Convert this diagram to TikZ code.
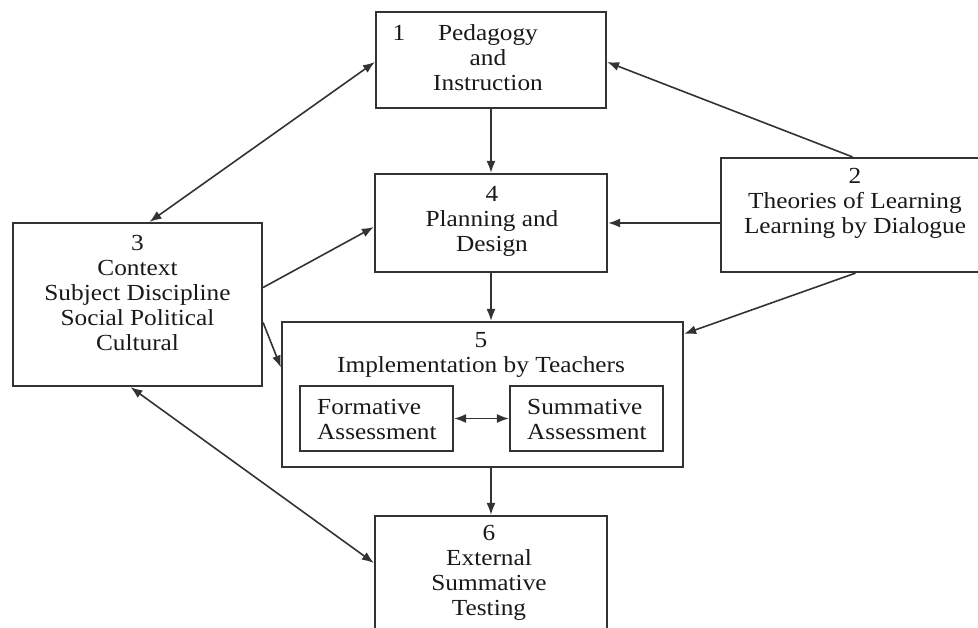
\documentclass[tikz,border=0pt]{standalone}
\usepackage{fontspec}
\setmainfont[FakeStretch=1.1]{Liberation Serif}
\usetikzlibrary{arrows.meta}
\definecolor{linegray}{HTML}{333333}
\begin{document}
\begin{tikzpicture}[x=1pt,y=-1pt,
  box/.style={draw=linegray, line width=2.2pt, rectangle, inner sep=0pt},
  lbl/.style={align=center, inner sep=0pt, font=\fontsize{23}{25}\selectfont, text=black!90},
  lbll/.style={align=left, inner sep=0pt, anchor=west, font=\fontsize{23}{25}\selectfont, text=black!90},
  arr/.style={draw=linegray, line width=1.6pt, -{Latex[length=12pt,width=9pt]}},
  darr/.style={draw=linegray, line width=1.6pt, {Latex[length=12pt,width=9pt]}-{Latex[length=12pt,width=9pt]}}
]
\useasboundingbox (0,0) rectangle (978,627);
% boxes
\node[box, minimum width=230pt, minimum height=96pt] (b1) at (491,60) {};
\node[box, minimum width=232pt, minimum height=98pt] (b4) at (491,223) {};
\node[box, minimum width=269pt, minimum height=114pt] (b2) at (855.5,215) {};
\node[box, minimum width=249pt, minimum height=163pt] (b3) at (137.5,304.5) {};
\node[box, minimum width=401pt, minimum height=145pt] (b5) at (482.5,394.5) {};
\node[box, minimum width=153pt, minimum height=65pt] (bf) at (376.5,418.5) {};
\node[box, minimum width=153pt, minimum height=65pt] (bs) at (586.5,418.5) {};
\node[box, minimum width=232pt, minimum height=134pt] (b6) at (491,583) {};
% texts
\node[lbl] (t1n) at (399,33) {1};
\node[lbl] (t1) at (488,58) {Pedagogy\\and\\Instruction};
\node[lbl] (t4) at (492,221) {4\\Planning and\\Design};
\node[lbl] (t2) at (855,203) {2\\Theories of Learning\\Learning by Dialogue};
\node[lbl] (t3) at (137.5,293) {3\\Context\\Subject Discipline\\Social Political\\Cultural};
\node[lbl] (t5) at (481,354.5) {5\\Implementation by Teachers};
\node[lbll] (tf) at (317,419.5) {Formative\\Assessment};
\node[lbll] (ts) at (527,419.5) {Summative\\Assessment};
\node[lbl] (t6) at (489,573) {6\\External\\Summative\\Testing};
% connectors
\draw[arr] (b1.south) -- (b4.north);
\draw[arr] (b4.south) -- (b4.south |- b5.north);
\draw[arr] (b6.north |- b5.south) -- (b6.north);
\draw[arr] ([xshift=-3pt]b2.north) -- ([yshift=-2pt]b1.east);
\draw[arr] (b2.west |- b4.east) -- (b4.east);
\draw[arr] (b2.south) -- ([yshift=-13pt]b5.north east);
\draw[darr] ([xshift=12pt]b3.north) -- ([yshift=-2pt]b1.west);
\draw[arr] ([yshift=17pt]b3.east) -- ([yshift=-4pt]b4.west);
\draw[arr] ([yshift=-18pt]b3.east) -- ([yshift=27pt]b5.west);
\draw[darr] ([xshift=-7pt]b3.south) -- ([yshift=20pt]b6.west);
\draw[darr] (bf.east) -- (bs.west);
\end{tikzpicture}
\end{document}
